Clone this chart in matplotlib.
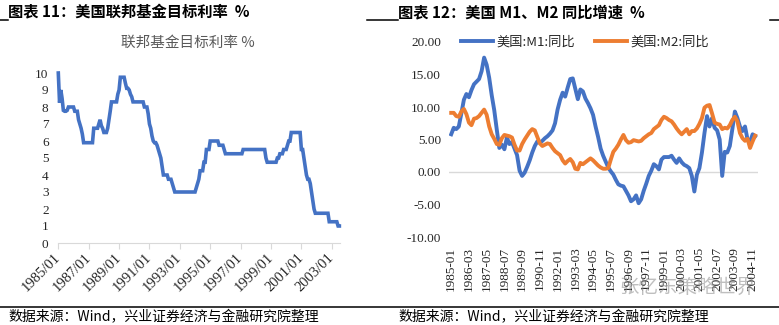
import numpy as np
import pandas as pd
import matplotlib
matplotlib.use('Agg')
import matplotlib.pyplot as plt
from matplotlib.lines import Line2D

plt.rcParams['font.family'] = ['Noto Sans CJK SC', 'DejaVu Sans']

W, H = 779, 325
BLUE = '#4472C4'
ORANGE = '#ED7D31'
NUM_FONT = ['Liberation Serif', 'DejaVu Serif']

# fed funds target rate, monthly, 1985/01 - 2003/07
fed_rate = [
    10.0, 8.25, 9.0, 8.5, 7.8, 7.75, 7.75, 7.8, 8.0, 8.0, 8.0, 8.0,
    8.0, 7.75, 7.75, 7.75, 7.25, 7.0, 6.75, 6.4, 5.9, 5.9, 5.9, 5.9,
    5.9, 5.9, 5.9, 5.9, 6.75, 6.75, 6.75, 6.75, 7.0, 7.25, 6.9, 6.75,
    6.5, 6.5, 6.5, 6.75, 7.25, 7.75, 8.3, 8.3, 8.3, 8.3, 8.3, 8.75,
    9.0, 9.75, 9.75, 9.75, 9.75, 9.4, 9.1, 9.1, 9.0, 8.75, 8.6, 8.3,
    8.3, 8.3, 8.3, 8.3, 8.3, 8.3, 8.3, 8.3, 8.0, 8.0, 8.0, 7.6,
    7.0, 6.75, 6.3, 6.0, 5.9, 5.9, 5.75, 5.5, 5.25, 5.0, 4.5, 4.0,
    4.0, 4.0, 4.0, 3.75, 3.75, 3.75, 3.5, 3.25, 3.0, 3.0, 3.0, 3.0,
    3.0, 3.0, 3.0, 3.0, 3.0, 3.0, 3.0, 3.0, 3.0, 3.0, 3.0, 3.0,
    3.0, 3.25, 3.5, 3.75, 4.25, 4.25, 4.25, 4.75, 4.75, 5.5, 5.5, 5.5,
    6.0, 6.0, 6.0, 6.0, 6.0, 6.0, 6.0, 5.75, 5.75, 5.75, 5.75, 5.5,
    5.25, 5.25, 5.25, 5.25, 5.25, 5.25, 5.25, 5.25, 5.25, 5.25, 5.25, 5.25,
    5.25, 5.25, 5.5, 5.5, 5.5, 5.5, 5.5, 5.5, 5.5, 5.5, 5.5, 5.5,
    5.5, 5.5, 5.5, 5.5, 5.5, 5.5, 5.5, 5.5, 5.0, 4.75, 4.75, 4.75,
    4.75, 4.75, 4.75, 4.75, 4.75, 5.0, 5.0, 5.25, 5.25, 5.25, 5.5, 5.5,
    5.5, 5.75, 6.0, 6.0, 6.5, 6.5, 6.5, 6.5, 6.5, 6.5, 6.5, 6.5,
    5.5, 5.5, 5.0, 4.5, 4.0, 3.75, 3.75, 3.5, 3.0, 2.5, 2.0, 1.75,
    1.75, 1.75, 1.75, 1.75, 1.75, 1.75, 1.75, 1.75, 1.75, 1.75, 1.25, 1.25,
    1.25, 1.25, 1.25, 1.25, 1.25, 1.0, 1.0,
]

# US M1 / M2 yoy growth (%), every other month from 1985-01
m1_yoy = [
    5.8, 6.8, 6.6, 7.0, 9.0, 11.1, 12.0, 11.5, 12.6, 13.5,
    13.9, 14.3, 15.5, 17.6, 16.5, 14.5, 11.8, 9.5, 6.5, 3.7,
    4.2, 3.5, 5.3, 4.3, 4.6, 3.6, 2.6, 0.2, -0.6, -0.1,
    0.8, 1.8, 3.0, 4.0, 4.7, 4.5, 4.8, 5.2, 5.5, 5.9,
    6.4, 7.5, 9.6, 11.1, 12.2, 11.6, 13.0, 14.3, 14.4, 12.8,
    11.2, 12.7, 12.4, 11.3, 10.6, 9.8, 8.8, 7.0, 5.4, 3.6,
    2.5, 1.6, 0.7, 0.1, -0.4, -1.2, -1.9, -2.1, -2.2, -2.9,
    -3.6, -4.5, -4.2, -3.6, -4.8, -4.2, -2.9, -1.8, -0.6, 0.2,
    1.2, 0.9, 0.4, 1.9, 2.3, 2.3, 2.3, 2.5, 1.9, 1.4,
    2.1, 1.5, 1.1, 0.9, 0.6, -0.6, -3.0, -0.4, 0.6, 3.0,
    6.0, 8.6, 7.0, 8.3, 6.8, 6.4, 5.0, -0.6, 3.1, 3.0,
    4.0, 6.6, 9.3, 8.3, 7.0, 6.3, 7.0, 5.0, 4.6, 5.8,
    5.5,
]
m2_yoy = [
    9.1, 9.1, 8.6, 8.5, 9.3, 9.7, 8.9, 7.6, 7.2, 8.2,
    8.3, 8.6, 9.1, 9.6, 8.8, 7.0, 5.8, 5.1, 4.3, 4.2,
    5.2, 5.7, 5.6, 5.5, 5.3, 4.2, 3.3, 3.3, 4.3, 5.0,
    5.6, 6.2, 6.6, 6.4, 5.4, 4.4, 4.0, 4.2, 4.4, 4.3,
    3.7, 3.2, 2.9, 2.6, 1.8, 1.3, 1.7, 2.0, 1.5, 0.5,
    0.4, 1.4, 1.2, 1.5, 1.8, 2.1, 1.8, 1.4, 1.0, 0.7,
    0.5, 0.5, 0.6, 1.9, 3.1, 3.6, 4.2, 5.0, 5.7, 4.9,
    4.5, 4.6, 4.9, 4.8, 4.7, 4.8, 5.2, 5.5, 5.8, 6.0,
    6.6, 6.9, 7.2, 8.0, 8.5, 8.3, 8.0, 7.8, 7.3, 6.7,
    6.2, 5.8, 6.2, 6.6, 5.8, 6.3, 6.3, 6.7, 7.4, 8.3,
    9.9, 10.2, 10.3, 9.0, 7.6, 7.4, 7.3, 6.6, 6.8, 6.7,
    7.2, 8.0, 8.5, 7.8, 6.0, 5.2, 4.8, 5.1, 3.7, 4.7,
    5.6,
]
money_labels = ['美国:M1:同比', '美国:M2:同比']


def fx(px):
    return px / W


def fy(py):
    return 1 - py / H


fig = plt.figure(figsize=(W / 100, H / 100), dpi=100)

# ---- left: fed funds target rate
fed_months = pd.period_range('1985-01', periods=len(fed_rate), freq='M')
x_fed = np.arange(len(fed_rate))
ax1 = fig.add_axes([fx(58.3), fy(243), (340 - 58.3) / W, (243 - 73) / H])
ax1.plot(x_fed, fed_rate, color=BLUE, lw=2.6, solid_joinstyle='miter', clip_on=False)
ax1.set_xlim(0, 222.5)
ax1.set_ylim(0, 10)
ax1.set_yticks(np.arange(0, 11, 1))
ax1.set_yticklabels([str(v) for v in range(11)], family=NUM_FONT, fontsize=9.5)
tick_idx = x_fed[::24]
ax1.set_xticks(tick_idx)
ax1.set_xticklabels(fed_months[::24].strftime('%Y/%m'), family=NUM_FONT, fontsize=10.5,
                    rotation=45, ha='right', va='center', rotation_mode='anchor')
for s in ['top', 'right', 'left']:
    ax1.spines[s].set_visible(False)
ax1.spines['bottom'].set_color('#D9D9D9')
ax1.tick_params(axis='y', length=0, pad=7, colors='#262626')
ax1.tick_params(axis='x', length=4, color='#D9D9D9', pad=5, labelcolor='#262626')
fig.text(fx(188), fy(43), '联邦基金目标利率 %', ha='center', va='center',
         fontsize=10.5, color='#595959')

# ---- right: M1 / M2 yoy
money_months = pd.period_range('1985-01', periods=2 * len(m1_yoy) - 1, freq='M')
x_money = np.arange(0, len(money_months), 2)
ax2 = fig.add_axes([fx(449.3), fy(237), (758.3 - 449.3) / W, (237 - 42) / H])
ax2.axhline(0, color='#D9D9D9', lw=1, zorder=1)
ax2.plot(x_money, m1_yoy, color=BLUE, lw=2.8, label=money_labels[0], zorder=2)
ax2.plot(x_money, m2_yoy, color=ORANGE, lw=2.8, label=money_labels[1], zorder=3)
ax2.set_xlim(-1.5, 242.5)
ax2.set_ylim(-10, 20)
ax2.set_yticks(np.arange(-10, 21, 5))
ax2.set_yticklabels(['%.2f' % v for v in np.arange(-10, 21, 5)], family=NUM_FONT, fontsize=9.5)
ax2.set_xticks(np.arange(0, len(money_months), 14))
ax2.set_xticklabels(money_months[::14].strftime('%Y-%m'), family=NUM_FONT, fontsize=9.5,
                    rotation=90, ha='center', va='top')
for s in ax2.spines.values():
    s.set_visible(False)
ax2.tick_params(axis='y', length=0, pad=6, colors='#262626')
ax2.tick_params(axis='x', length=0, pad=7, colors='#262626')
ax2.legend(loc='center', bbox_to_anchor=(0.44, 1.0), ncol=2, frameon=False,
           fontsize=9.5, handlelength=2.4, handletextpad=0.3, columnspacing=1.5,
           labelcolor='#262626')

# ---- headers, rules and source notes
fig.text(fx(8), fy(12), '图表 11：美国联邦基金目标利率  %', ha='left', va='center',
         fontsize=11, fontweight='bold', color='black')
fig.text(fx(398), fy(12), '图表 12：美国 M1、M2 同比增速  %', ha='left', va='center',
         fontsize=11, fontweight='bold', color='black')
for x0, x1 in [(0, 8), (367, 398), (770, 779)]:
    fig.add_artist(Line2D([fx(x0), fx(x1)], [fy(20), fy(20)], color='black', lw=1.1))
fig.add_artist(Line2D([0, 1], [fy(307), fy(307)], color='black', lw=1.1))
for x0 in [8, 398]:
    fig.text(fx(x0), fy(317), '数据来源：Wind，兴业证券经济与金融研究院整理',
             ha='left', va='center', fontsize=10, color='black')

fig.text(fx(688), fy(287), '张忆东策略世界', ha='center', va='center',
         fontsize=14, color='#8C8C8C', alpha=0.55)

fig.savefig('out.png', dpi=100)
